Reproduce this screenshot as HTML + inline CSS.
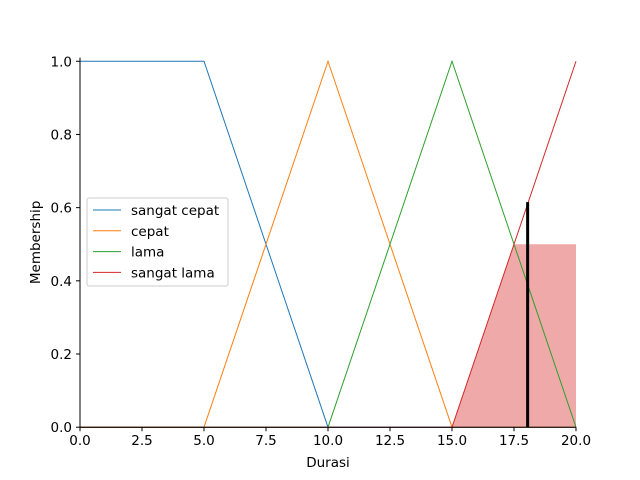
<!DOCTYPE html>
<html><head><meta charset="utf-8"><style>body{margin:0;background:#fff}svg{display:block;font-family:"DejaVu Sans","Liberation Sans",sans-serif}</style></head>
<body>
<svg id="chart" width="640" height="480" viewBox="0 0 640 480"></svg>
<script>
const xTicks=[0,2.5,5,7.5,10,12.5,15,17.5,20];
const yTicks=[0,0.2,0.4,0.6,0.8,1.0];
const seriesNames=["sangat cepat","cepat","lama","sangat lama"];
const seriesColors=["#1f77b4","#ff7f0e","#2ca02c","#d62728"];
const sangatCepatX=[0,5,10,20];const sangatCepatY=[1,1,0,0];
const cepatX=[0,5,10,15,20];const cepatY=[0,0,1,0,0];
const lamaX=[0,10,15,20];const lamaY=[0,0,1,0];
const sangatLamaX=[0,15,20];const sangatLamaY=[0,0,1];
const fillX=[15,17.5,20];const fillY=[0,0.5,0.5];
const markerX=18.05;const markerY=0.615;
const ns="http://www.w3.org/2000/svg",svg=document.getElementById('chart');
const L=80,R=576,T=57.6,B=427.2,ymax=1.01;
const sx=v=>L+(v/20)*(R-L),sy=v=>B-(v/ymax)*(B-T);
function mk(tag,a,p){const e=document.createElementNS(ns,tag);for(const k in a)e.setAttribute(k,a[k]);(p||svg).appendChild(e);return e;}
let fp=`M${sx(fillX[0])},${sy(0)} `+fillX.map((x,i)=>`L${sx(x)},${sy(fillY[i])}`).join(' ')+` L${sx(fillX[fillX.length-1])},${sy(0)} Z`;
const fe=mk('path',{d:fp,fill:'#d62728','fill-opacity':0.4});


const all=[[sangatCepatX,sangatCepatY],[cepatX,cepatY],[lamaX,lamaY],[sangatLamaX,sangatLamaY]];
all.forEach((s,i)=>{const p=mk('polyline',{points:s[0].map((x,j)=>sx(x)+','+sy(s[1][j])).join(' '),fill:'none',stroke:seriesColors[i],'stroke-width':1});

});
const ml=mk('line',{x1:sx(markerX),x2:sx(markerX),y1:sy(0),y2:sy(markerY),stroke:'#000','stroke-width':3});


const ax=mk('path',{d:`M${L},${T} L${L},${B} L${R},${B}`,fill:'none',stroke:'#000','stroke-width':1});


xTicks.forEach(v=>{const x=sx(v);mk('line',{x1:x,x2:x,y1:B,y2:B+4,stroke:'#000','stroke-width':1});
const t=mk('text',{x:x,y:B+18,'text-anchor':'middle','font-size':13.5,fill:'#000'});t.textContent=v.toFixed(1);

});
yTicks.forEach(v=>{const y=sy(v);mk('line',{x1:L,x2:L-4,y1:y,y2:y,stroke:'#000','stroke-width':1});
const t=mk('text',{x:L-8,y:y+5,'text-anchor':'end','font-size':13.5,fill:'#000'});t.textContent=v.toFixed(1);

});
const xl=mk('text',{x:(L+R)/2,y:467,'text-anchor':'middle','font-size':13.5});xl.textContent='Durasi';


const yl=mk('text',{x:40,y:(T+B)/2,'text-anchor':'middle','font-size':13.5,transform:`rotate(-90 40 ${(T+B)/2})`});yl.textContent='Membership';


const lg=mk('g',{});


mk('rect',{x:87,y:198,width:141,height:88,rx:2,fill:'#fff','fill-opacity':0.8,stroke:'#ccc'},lg);
seriesNames.forEach((n,i)=>{const y=210+i*20.8;
mk('line',{x1:93,x2:121,y1:y,y2:y,stroke:seriesColors[i],'stroke-width':1},lg);
const t=mk('text',{x:131,y:y+5,'font-size':13.5},lg);t.textContent=n;

});
</script>
</body></html>
